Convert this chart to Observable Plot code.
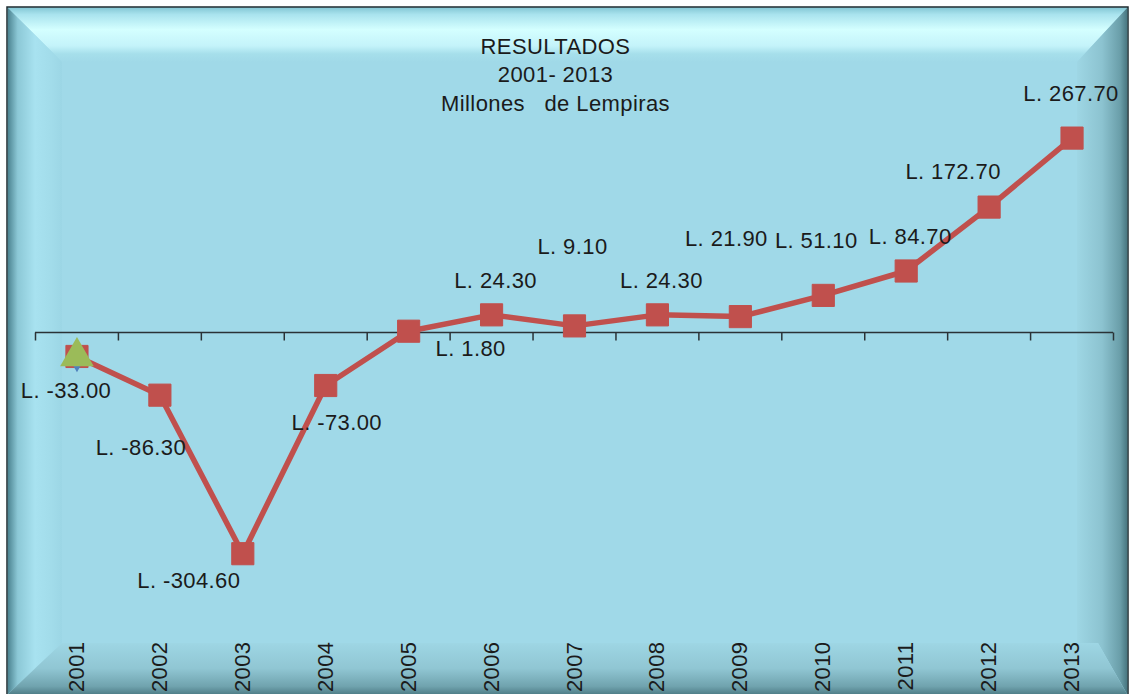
<!DOCTYPE html>
<html>
<head>
<meta charset="utf-8">
<script src="https://cdn.jsdelivr.net/npm/d3@7"></script>
<script src="https://cdn.jsdelivr.net/npm/@observablehq/plot@0.6"></script>
<style>
  html, body { margin: 0; padding: 0; background: #ffffff; }
  #wrap { position: relative; width: 1129px; height: 694px; overflow: hidden; font-family: "Liberation Sans", Arial, sans-serif; }
  #bg { position: absolute; left: 0; top: 0; }
  #chart { position: absolute; left: 0; top: 0; }
</style>
</head>
<body>
<div id="wrap">
  <svg id="bg" width="1129" height="694" xmlns="http://www.w3.org/2000/svg">
    <defs>
      <linearGradient id="gTop" x1="0" y1="8" x2="0" y2="62" gradientUnits="userSpaceOnUse">
        <stop offset="0" stop-color="#86c9d6"/>
        <stop offset="0.12" stop-color="#a9e3ee"/>
        <stop offset="0.4" stop-color="#d4ffff"/>
        <stop offset="0.7" stop-color="#c4f3fa"/>
        <stop offset="0.85" stop-color="#a6dfeb"/>
        <stop offset="1" stop-color="#a0d9e8"/>
      </linearGradient>
      <linearGradient id="gLeft" x1="8" y1="0" x2="62" y2="0" gradientUnits="userSpaceOnUse">
        <stop offset="0" stop-color="#4d8592"/>
        <stop offset="0.18" stop-color="#8cc8d6"/>
        <stop offset="0.5" stop-color="#a8e2f0"/>
        <stop offset="0.8" stop-color="#a2dcea"/>
        <stop offset="1" stop-color="#9cd6e5"/>
      </linearGradient>
      <linearGradient id="gRight" x1="1076" y1="0" x2="1128" y2="0" gradientUnits="userSpaceOnUse">
        <stop offset="0" stop-color="#9fd7e5"/>
        <stop offset="0.5" stop-color="#8cc3d0"/>
        <stop offset="0.85" stop-color="#6a9ea9"/>
        <stop offset="1" stop-color="#44727c"/>
      </linearGradient>
      <linearGradient id="gBot" x1="0" y1="643" x2="0" y2="694" gradientUnits="userSpaceOnUse">
        <stop offset="0" stop-color="#9ed6e4"/>
        <stop offset="0.5" stop-color="#90c6d3"/>
        <stop offset="0.85" stop-color="#70a3ae"/>
        <stop offset="1" stop-color="#507f89"/>
      </linearGradient>
    </defs>
    <rect x="7" y="7" width="1121" height="690" fill="#a0d9e8" stroke="#1d2a2e" stroke-width="1.5"/>
    <polygon points="8,8 1127,8 1077,62 62,62" fill="url(#gTop)"/>
    <polygon points="8,8 62,62 62,643 8,694" fill="url(#gLeft)"/>
    <polygon points="1127,8 1127,694 1098,643 1077,643 1077,62" fill="url(#gRight)"/>
    <polygon points="8,694 62,643 1098,643 1127,694" fill="url(#gBot)"/>
    <rect x="62" y="62" width="1015" height="581" fill="#a0d9e8"/>
  </svg>
  <div id="chart"></div>
</div>
<script>
// ---- data ----
const years = [2001, 2002, 2003, 2004, 2005, 2006, 2007, 2008, 2009, 2010, 2011, 2012, 2013];
const values = [-33.0, -86.3, -304.6, -73.0, 1.8, 24.3, 9.1, 24.3, 21.9, 51.1, 84.7, 172.7, 267.7];
const labels = ["L. -33.00", "L. -86.30", "L. -304.60", "L. -73.00", "L. 1.80", "L. 24.30", "L. 9.10",
                "L. 24.30", "L. 21.90", "L. 51.10", "L. 84.70", "L. 172.70", "L. 267.70"];
const titleLines = ["RESULTADOS", "2001- 2013", "Millones\u00a0\u00a0 de Lempiras"];

// ---- render ----
const data = years.map((yr, i) => ({year: yr, value: values[i], label: labels[i]}));
const boundaries = years.map(y => y - 0.5).concat([years[years.length - 1] + 0.5]);

// label offsets (px) relative to each point
const labelOffsets = [
  [-11, 34], [-19, 53], [-54, 27], [11, 37], [62, 18], [4, -34], [-2, -79],
  [4, -34], [-14, -78], [-7, -54], [4, -34], [-36, -35], [-1, -44]
];

const tickSymbol = { draw(ctx, size) { ctx.moveTo(0, 0); ctx.lineTo(0, 8); } };
const red = "#c0504d";
const txt = "#1b1b1b";

const chart = Plot.plot({
  width: 1129,
  height: 694,
  marginLeft: 35,
  marginRight: 16,
  marginTop: 27,
  marginBottom: 57,
  style: { background: "transparent", fontFamily: "'Liberation Sans', Arial, sans-serif", fontSize: "22px", color: txt },
  x: { type: "linear", domain: [2000.5, 2013.5], axis: null },
  y: { domain: [-420, 420], axis: null },
  marks: [
    Plot.axisX(years, { anchor: "bottom", label: null, tickSize: 0, tickPadding: 4, tickRotate: -90, tickFormat: d => String(d), fontSize: 22, fill: txt }),
    Plot.ruleY([0], { stroke: "#2a3236", strokeWidth: 1.5 }),
    Plot.dot(boundaries, { x: d => d, y: () => 0, symbol: tickSymbol, stroke: "#2a3236", strokeWidth: 1.5, fill: "none", r: 4 }),
    Plot.text([titleLines.join("\n")], { frameAnchor: "top", lineAnchor: "top", dx: -19, dy: 6, lineHeight: 1.3, fontSize: 22, fill: txt, style: "letter-spacing: 0.5px" }),
    Plot.line(data, { x: "year", y: "value", stroke: red, strokeWidth: 5.5, strokeLinejoin: "round" }),
    Plot.dot(data, { x: "year", y: "value", symbol: "square", r: 12.5, fill: red, stroke: red, strokeWidth: 1, strokeLinejoin: "round" }),
    Plot.dot(data.slice(0, 1), { x: "year", y: "value", symbol: "diamond", r: 9.5, fill: "#4f81bd" }),
    Plot.dot(data.slice(0, 1), { x: "year", y: "value", symbol: "triangle", r: 12.5, fill: "#9bbb59" }),
    ...data.map((d, i) => Plot.text([d], { x: "year", y: "value", text: "label", dx: labelOffsets[i][0], dy: labelOffsets[i][1], fontSize: 22, fill: txt }))
  ]
});
chart.querySelectorAll("text").forEach(t => t.setAttribute("letter-spacing", "0.4"));
document.getElementById("chart").appendChild(chart);
</script>
</body>
</html>
